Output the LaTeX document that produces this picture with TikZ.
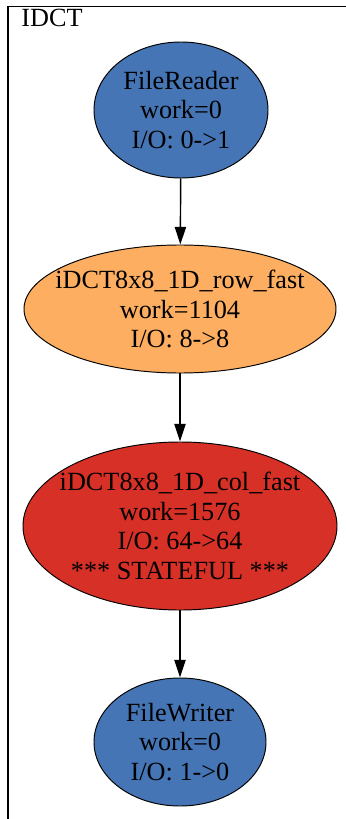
\documentclass[tikz,border=0pt]{standalone}
\usepackage{fontspec}
\setmainfont{Liberation Serif}
\usetikzlibrary{arrows.meta, shapes.geometric}
\definecolor{filterblue}{HTML}{4575B4}
\definecolor{filterorange}{HTML}{FDAE61}
\definecolor{filterred}{HTML}{D73027}
\begin{document}
\begin{tikzpicture}[x=0.625pt, y=-0.625pt,
    every node/.style={font=\fontsize{16.4}{18.4}\selectfont},
    every label/.style={align=center, inner sep=0pt},
    filter/.style={ellipse, draw, line width=0.6pt, inner sep=0pt},
    flow/.style={line width=0.9pt, -{Triangle[length=11pt, width=7pt]}}]
    \useasboundingbox (0,0) rectangle (345,819);

    % cluster frame and label
    \draw[line width=0.8pt] (8,830) -- (8,6.5) -- (360,6.5);
    \node[anchor=base west, inner sep=0pt] (clabel) at (21,27) {IDCT};

    % filters of the pipeline
    \node[filter, fill=filterblue, minimum width=108.75pt, minimum height=85pt,
        label=center:{FileReader\\work=0\\I/O: 0->1}] (reader) at (181,110) {};
    \node[filter, fill=filterorange, minimum width=195pt, minimum height=80pt,
        label=center:{iDCT8x8\_1D\_row\_fast\\work=1104\\I/O: 8->8}] (row) at (180,309) {};
    \node[filter, fill=filterred, minimum width=196.25pt, minimum height=105pt,
        label=center:{iDCT8x8\_1D\_col\_fast\\work=1576\\I/O: 64->64\\*** STATEFUL ***}] (col) at (180,526) {};
    \node[filter, fill=filterblue, minimum width=107.5pt, minimum height=80pt,
        label=center:{FileWriter\\work=0\\I/O: 1->0}] (writer) at (180,742) {};

    % channels
    \draw[flow] (reader) -- (row);
    \draw[flow] (row) -- (col);
    \draw[flow] (col) -- (writer);
\end{tikzpicture}
\end{document}
